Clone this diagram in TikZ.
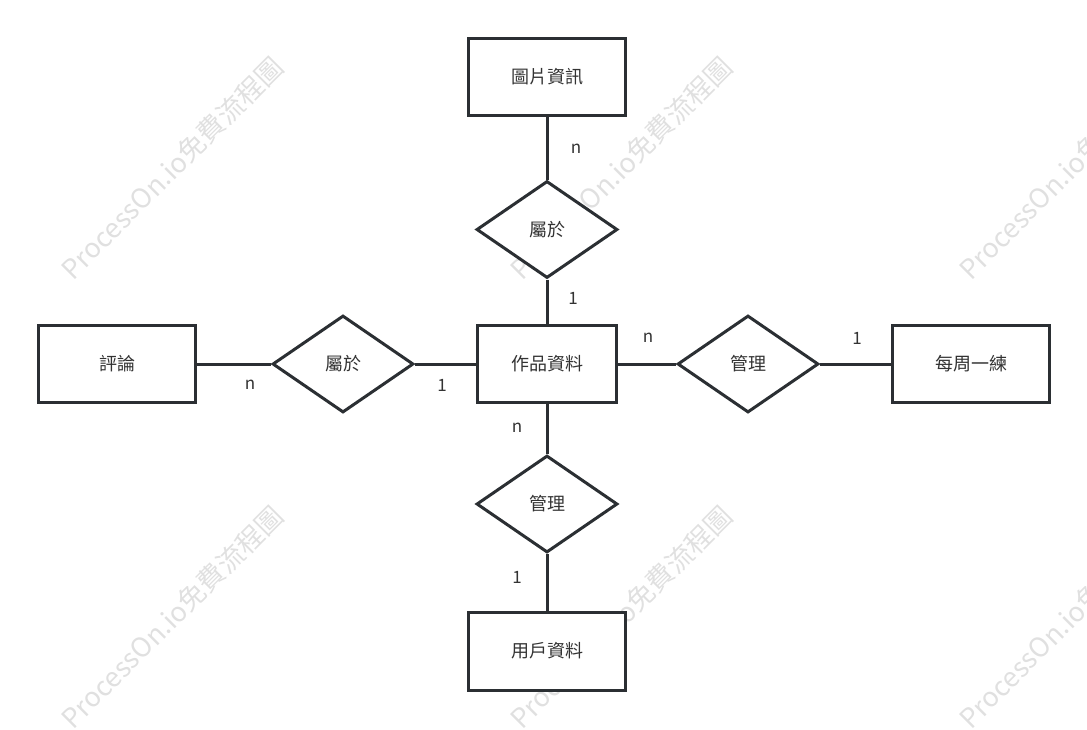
\documentclass[tikz,border=0pt]{standalone}
\usepackage{fontspec}
\newfontfamily\cjk{Noto Sans CJK TC}
\usetikzlibrary{shapes.geometric}
\definecolor{linecol}{HTML}{2B2F33}
\definecolor{textcol}{HTML}{333333}
\definecolor{wmcol}{HTML}{E0E0E0}
\tikzset{
  every node/.style={font=\cjk\fontsize{18}{20}\selectfont, text=textcol},
  entity/.style={draw=linecol, line width=3pt, rectangle, inner sep=0pt, fill=white},
  relation/.style={draw=linecol, line width=3pt, diamond, inner sep=0pt, minimum width=141pt, minimum height=97pt, fill=white},
  conn/.style={draw=linecol, line width=3pt},
  card/.style={font=\cjk\fontsize{17}{19}\selectfont, text=textcol},
  wm/.style={font=\cjk\fontsize{27}{29}\selectfont, text=wmcol, rotate=45}
}
\begin{document}
\begin{tikzpicture}[x=1pt,y=-1pt]
\useasboundingbox (0,0) rectangle (1087,729);
% watermarks
\node[wm] (wm1) at (172,168) {ProcessOn.io免費流程圖};
\node[wm] (wm2) at (621,168) {ProcessOn.io免費流程圖};
\node[wm] (wm3) at (1070,168) {ProcessOn.io免費流程圖};
\node[wm] (wm4) at (172,617) {ProcessOn.io免費流程圖};
\node[wm] (wm5) at (621,617) {ProcessOn.io免費流程圖};
\node[wm] (wm6) at (1070,617) {ProcessOn.io免費流程圖};
% entities
\node[entity, minimum width=157pt, minimum height=77pt] (img) at (547,77) {圖片資訊};
\node[entity, minimum width=139pt, minimum height=77pt] (work) at (547,364) {作品資料};
\node[entity, minimum width=157pt, minimum height=77pt] (comment) at (117,364) {評論};
\node[entity, minimum width=157pt, minimum height=77pt] (weekly) at (971,364) {每周一練};
\node[entity, minimum width=157pt, minimum height=78pt] (user) at (547,651) {用戶資料};
% relations
\node[relation] (rtop) at (547,229.5) {屬於};
\node[relation] (rleft) at (343,364) {屬於};
\node[relation] (rright) at (748,364) {管理};
\node[relation] (rbottom) at (547,504) {管理};
% connectors
\draw[conn] (img) -- (rtop);
\draw[conn] (rtop) -- (work);
\draw[conn] (comment) -- (rleft);
\draw[conn] (rleft) -- (work);
\draw[conn] (work) -- (rright);
\draw[conn] (rright) -- (weekly);
\draw[conn] (work) -- (rbottom);
\draw[conn] (rbottom) -- (user);
% cardinalities
\node[card] (c1) at (576,149) {n};
\node[card] (c2) at (573,298) {1};
\node[card] (c3) at (250,385) {n};
\node[card] (c4) at (442,385) {1};
\node[card] (c5) at (648,338) {n};
\node[card] (c6) at (857,338) {1};
\node[card] (c7) at (517,428) {n};
\node[card] (c8) at (517,577) {1};
\end{tikzpicture}
\end{document}
